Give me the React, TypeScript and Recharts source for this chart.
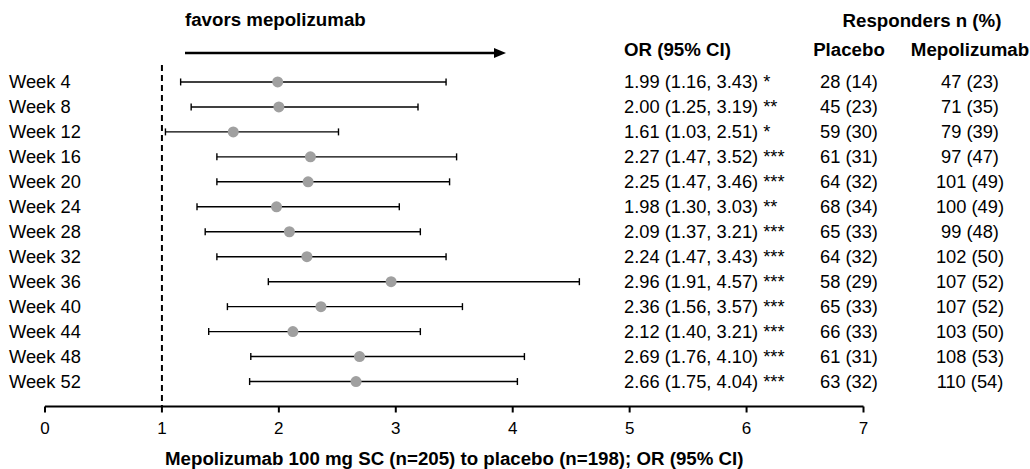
import React from 'react';
import { ScatterChart, Scatter, XAxis, YAxis, ErrorBar, ReferenceLine } from 'recharts';

const weeks = [4, 8, 12, 16, 20, 24, 28, 32, 36, 40, 44, 48, 52];
const oddsRatio = [1.99, 2.0, 1.61, 2.27, 2.25, 1.98, 2.09, 2.24, 2.96, 2.36, 2.12, 2.69, 2.66];
const ciLower = [1.16, 1.25, 1.03, 1.47, 1.47, 1.3, 1.37, 1.47, 1.91, 1.56, 1.4, 1.76, 1.75];
const ciUpper = [3.43, 3.19, 2.51, 3.52, 3.46, 3.03, 3.21, 3.43, 4.57, 3.57, 3.21, 4.1, 4.04];
const significance = ['*', '**', '*', '***', '***', '**', '***', '***', '***', '***', '***', '***', '***'];
const placeboN = [28, 45, 59, 61, 64, 68, 65, 64, 58, 65, 66, 61, 63];
const placeboPct = [14, 23, 30, 31, 32, 34, 33, 32, 29, 33, 33, 31, 32];
const mepoN = [47, 71, 79, 97, 101, 100, 99, 102, 107, 107, 103, 108, 110];
const mepoPct = [23, 35, 39, 47, 49, 49, 48, 50, 52, 52, 50, 53, 54];
const xTicks = [0, 1, 2, 3, 4, 5, 6, 7];

const rows = weeks.map((w, i) => ({
  week: w,
  label: `Week ${w}`,
  or: oddsRatio[i],
  err: [oddsRatio[i] - ciLower[i], ciUpper[i] - oddsRatio[i]],
  orText: `${oddsRatio[i].toFixed(2)} (${ciLower[i].toFixed(2)}, ${ciUpper[i].toFixed(2)}) ${significance[i]}`,
  placebo: `${placeboN[i]} (${placeboPct[i]})`,
  mepo: `${mepoN[i]} (${mepoPct[i]})`,
}));

const FONT = 18.3;
const BOLD = 18.7;

// one row of the table, drawn at the y of each week tick
const RowTick = (props: any) => {
  const { y, index } = props;
  const r = rows[index];
  if (!r) return null;
  const by = y + 6.5;
  return (
    <g fontSize={FONT} fill="#000">
      <text x={9} y={by}>{r.label}</text>
      <text x={624} y={by}>{r.orText}</text>
      <text x={849} y={by} textAnchor="middle">{r.placebo}</text>
      <text x={970} y={by} textAnchor="middle">{r.mepo}</text>
    </g>
  );
};

const Dot = (props: any) => <circle cx={props.cx} cy={props.cy} r={5.5} fill="#a0a0a0" />;

export default function App() {
  return (
    <div style={{ position: 'absolute', left: 0, top: 0, fontFamily: "'Liberation Sans', Arial, sans-serif" }}>
      <ScatterChart width={1030} height={469} margin={{ top: 57, right: 166.5, bottom: 0, left: 44 }}>
        <XAxis
          type="number"
          dataKey="or"
          domain={[0, 7]}
          ticks={xTicks}
          interval={0}
          height={62.5}
          axisLine={{ stroke: '#000', strokeWidth: 2 }}
          tickLine={{ stroke: '#000', strokeWidth: 2 }}
          tickSize={6}
          tickMargin={9}
          tick={{ fill: '#000', fontSize: 17 }}
          label={{
            value: 'Mepolizumab 100 mg SC (n=205) to placebo (n=198); OR (95% CI)',
            position: 'insideBottom',
            offset: 4.5,
            fill: '#000',
            fontSize: BOLD,
            fontWeight: 'bold',
          }}
        />
        <YAxis
          type="number"
          dataKey="week"
          domain={[0, 56]}
          ticks={weeks}
          interval={0}
          reversed
          width={1}
          axisLine={false}
          tickLine={false}
          tick={<RowTick />}
        />
        <ReferenceLine
          segment={[{ x: 1, y: 1.3 }, { x: 1, y: 56 }]}
          stroke="#000"
          strokeWidth={2}
          strokeDasharray="6 4"
          ifOverflow="visible"
        />
        <Scatter data={rows} dataKey="or" shape={<Dot />} isAnimationActive={false}>
          <ErrorBar dataKey="err" direction="x" width={3.5} stroke="#000" strokeWidth={1.4} isAnimationActive={false} />
        </Scatter>
        <text x={185} y={26} fontSize={BOLD} fontWeight="bold" fill="#000">favors mepolizumab</text>
        <line x1={185} y1={53} x2={496} y2={53} stroke="#000" strokeWidth={2.5} />
        <polygon points="494,48 506,53 494,58" fill="#000" />
        <text x={624} y={56} fontSize={BOLD} fontWeight="bold" fill="#000">OR (95% CI)</text>
        <text x={922} y={27} fontSize={BOLD} fontWeight="bold" fill="#000" textAnchor="middle">Responders n (%)</text>
        <text x={849} y={56} fontSize={BOLD} fontWeight="bold" fill="#000" textAnchor="middle">Placebo</text>
        <text x={970} y={56} fontSize={BOLD} fontWeight="bold" fill="#000" textAnchor="middle">Mepolizumab</text>
      </ScatterChart>
    </div>
  );
}
